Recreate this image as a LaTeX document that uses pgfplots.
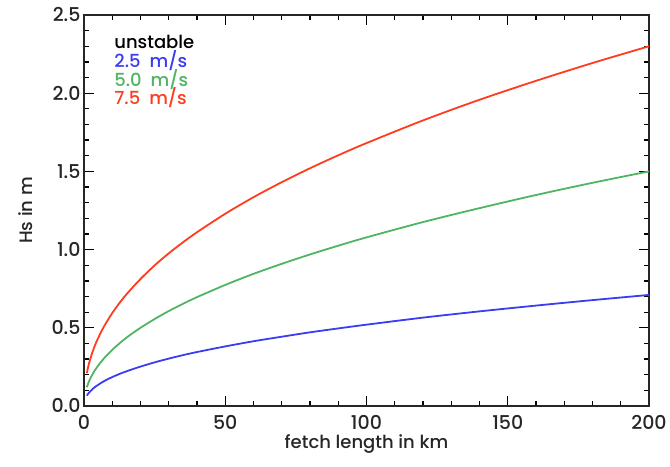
\documentclass[border=0pt]{standalone}
\usepackage{fontspec}
\setmainfont{Poppins}[UprightFont={Poppins Medium}]
\usepackage{pgfplots}
\pgfplotsset{compat=1.18}

\definecolor{cblue}{RGB}{60,60,240}
\definecolor{cgreen}{RGB}{80,180,100}
\definecolor{cred}{RGB}{255,60,30}

\begin{document}
\begin{tikzpicture}
\begin{axis}[
    scale only axis,
    width=565pt, height=391pt,
    xmin=0, xmax=200, ymin=0, ymax=2.5,
    xtick={0,50,100,150,200},
    ytick={0,0.5,1.0,1.5,2.0,2.5},
    minor x tick num=4,
    minor y tick num=4,
    yticklabel style={/pgf/number format/.cd, fixed, fixed zerofill, precision=1},
    /pgf/number format/assume math mode=true,
    tick align=inside,
    major tick length=10pt,
    minor tick length=5pt,
    every tick/.style={black, line width=1.3pt},
    axis line style={line width=1.6pt, black!85},
    tick label style={font=\fontsize{19}{22}\selectfont, black!85},
    xticklabel style={yshift=-6pt},
    label style={font=\fontsize{18}{21}\selectfont, black!85},
    xlabel={fetch length in km},
    ylabel={Hs in m},
    xlabel style={yshift=0pt, inner sep=1pt},
    ylabel style={yshift=12pt},
    clip=false,
]
\addplot[cred, line width=1.8pt, smooth] coordinates {
 (1,0.210) (1.5,0.252) (2,0.287) (3,0.345) (4,0.393) (5,0.434) (7,0.506)
 (10,0.594) (13,0.669) (16,0.734) (20,0.812) (25,0.899) (30,0.976) (35,1.046)
 (40,1.111) (50,1.229) (60,1.335) (70,1.431) (80,1.520) (90,1.603) (100,1.681)
 (120,1.826) (140,1.958) (160,2.079) (180,2.193) (200,2.300)
};
\addplot[cgreen, line width=1.8pt, smooth] coordinates {
 (1,0.120) (1.5,0.145) (2,0.167) (3,0.202) (4,0.232) (5,0.258) (7,0.303)
 (10,0.359) (13,0.407) (16,0.450) (20,0.500) (25,0.556) (30,0.607) (35,0.653)
 (40,0.696) (50,0.774) (60,0.845) (70,0.909) (80,0.969) (90,1.025) (100,1.078)
 (120,1.176) (140,1.265) (160,1.349) (180,1.427) (200,1.500)
};
\addplot[cblue, line width=1.8pt, smooth] coordinates {
 (1,0.066) (1.5,0.079) (2,0.090) (3,0.108) (4,0.123) (5,0.135) (7,0.158)
 (10,0.185) (13,0.208) (16,0.228) (20,0.252) (25,0.279) (30,0.303) (35,0.325)
 (40,0.345) (50,0.381) (60,0.414) (70,0.443) (80,0.471) (90,0.496) (100,0.520)
 (120,0.565) (140,0.605) (160,0.642) (180,0.677) (200,0.710)
};
\node[anchor=west, font=\fontsize{18}{21}\selectfont, black] at (axis cs:9.5,2.33) {unstable};
\node[anchor=west, font=\fontsize{18}{21}\selectfont, cblue] at (axis cs:9.5,2.21) {2.5\enspace m/s};
\node[anchor=west, font=\fontsize{18}{21}\selectfont, cgreen] at (axis cs:9.5,2.09) {5.0\enspace m/s};
\node[anchor=west, font=\fontsize{18}{21}\selectfont, cred] at (axis cs:9.5,1.975) {7.5\enspace m/s};
\end{axis}
\pgfresetboundingbox
\path (current axis.south west) ++(-84pt,-61pt) coordinate (bl);
\path (current axis.north east) ++(21pt,15pt) coordinate (tr);
\path[use as bounding box] (bl) rectangle (tr);
\end{tikzpicture}
\end{document}
